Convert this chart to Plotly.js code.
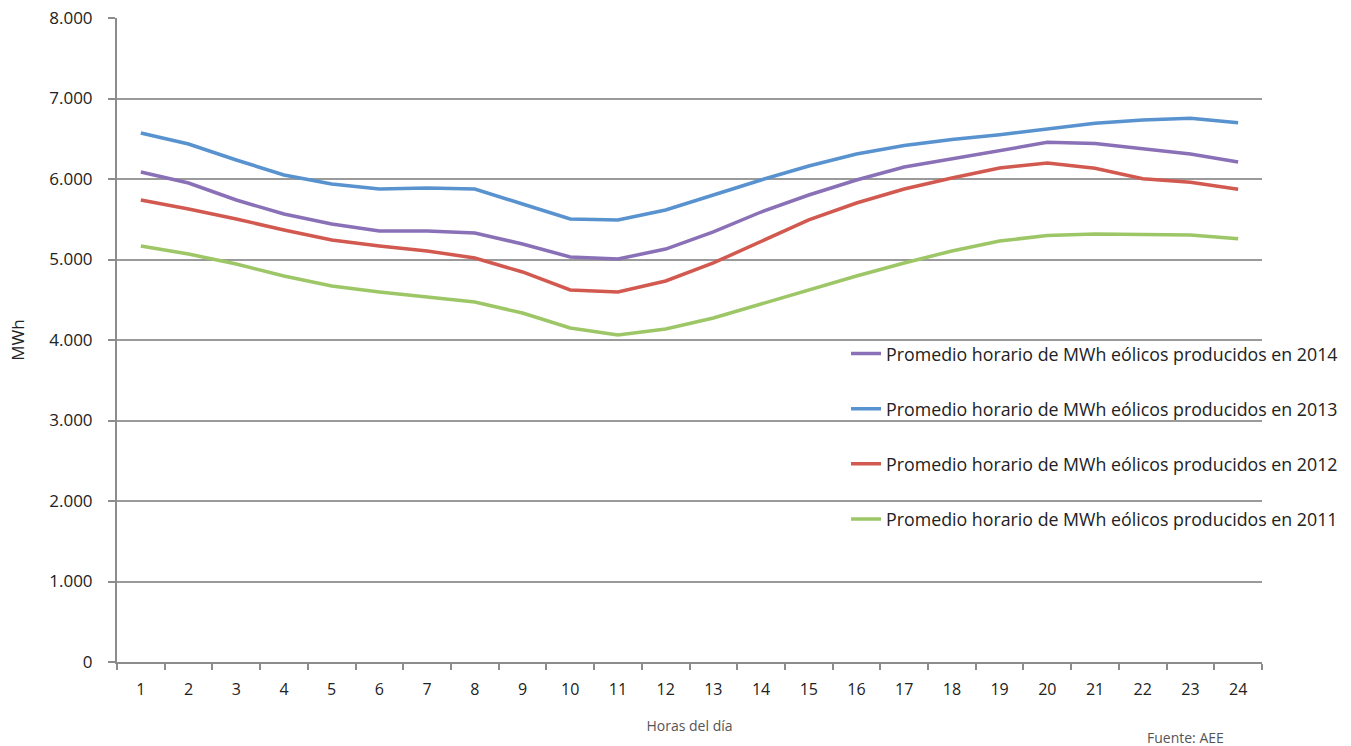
<!DOCTYPE html>
<html>
<head>
<meta charset="utf-8">
<script src="https://cdn.plot.ly/plotly-3.0.1.min.js"></script>
<style>html,body{margin:0;padding:0;background:#fff;}#chart{width:1351px;height:746px;}</style>
</head>
<body>
<div id="chart"></div>
<script>
const hours = ["1","2","3","4","5","6","7","8","9","10","11","12","13","14","15","16","17","18","19","20","21","22","23","24"];
const y2014 = [6087,5950,5739,5565,5441,5354,5354,5329,5193,5031,5006,5130,5342,5590,5801,5988,6149,6248,6348,6455,6440,6370,6310,6211];
const y2013 = [6571,6435,6236,6050,5938,5876,5888,5876,5689,5503,5491,5615,5801,5988,6161,6311,6415,6490,6550,6620,6692,6732,6755,6698];
const y2012 = [5739,5627,5503,5366,5242,5168,5106,5019,4845,4621,4596,4733,4957,5230,5491,5702,5876,6012,6137,6200,6133,6003,5960,5873];
const y2011 = [5168,5068,4944,4795,4671,4596,4534,4472,4335,4149,4062,4137,4273,4447,4621,4795,4957,5106,5230,5297,5317,5309,5305,5258];
const seriesNames = [
  "Promedio horario de MWh eólicos producidos en 2014",
  "Promedio horario de MWh eólicos producidos en 2013",
  "Promedio horario de MWh eólicos producidos en 2012",
  "Promedio horario de MWh eólicos producidos en 2011"
];
const yTickVals = [0,1000,2000,3000,4000,5000,6000,7000,8000];
const yTickText = ["0","1.000","2.000","3.000","4.000","5.000","6.000","7.000","8.000"];

const colors = ["#8A70B6","#5892CF","#D2594F","#9DC766"];
const data = [y2014, y2013, y2012, y2011].map((ys, i) => ({
  type: "scatter", mode: "lines", x: hours, y: ys, name: seriesNames[i],
  legendgroup: "g" + i,
  line: {color: colors[i], width: 3.5}
}));

const font = "'Open Sans', 'Noto Sans', sans-serif";
const layout = {
  width: 1351, height: 746,
  margin: {l: 117, r: 89, t: 18, b: 84, autoexpand: false},
  paper_bgcolor: "#fff", plot_bgcolor: "#fff",
  font: {family: font, size: 16, color: "#222"},
  showlegend: true,
  legend: {x: 0.6367, y: 0.507, xanchor: "left", yanchor: "top",
           bgcolor: "rgba(0,0,0,0)", font: {size: 17.8, color: "#222", family: font},
           tracegroupgap: 29},
  xaxis: {
    type: "category", range: [-0.5, 23.5],
    showgrid: false, showline: true, linecolor: "#8c8c8c", linewidth: 2,
    ticks: "outside", tickson: "boundaries", ticklen: 6, tickcolor: "#8c8c8c", tickwidth: 2,
    tickfont: {size: 16, color: "#222"}, ticklabelstandoff: 12,
    title: {text: "Horas del día", font: {size: 14, color: "#555"}, standoff: 22},
    zeroline: false
  },
  yaxis: {
    range: [0, 8000], tickvals: yTickVals, ticktext: yTickText,
    showgrid: true, gridcolor: "#9a9a9a", gridwidth: 1.6,
    showline: true, linecolor: "#8c8c8c", linewidth: 2,
    ticks: "outside", ticklen: 7, tickcolor: "#8c8c8c", tickwidth: 2,
    tickfont: {size: 17, color: "#222"}, ticklabelstandoff: 12,
    title: {text: "MWh", font: {size: 17, color: "#222"}, standoff: 20},
    zeroline: false
  },
  annotations: [{
    text: "Fuente: AEE", xref: "paper", yref: "paper", x: 0.933, y: -0.118,
    xanchor: "center", yanchor: "middle", showarrow: false,
    font: {size: 14, color: "#555", family: font}
  }]
};
Plotly.newPlot("chart", data, layout, {displayModeBar: false});
</script>
</body>
</html>
